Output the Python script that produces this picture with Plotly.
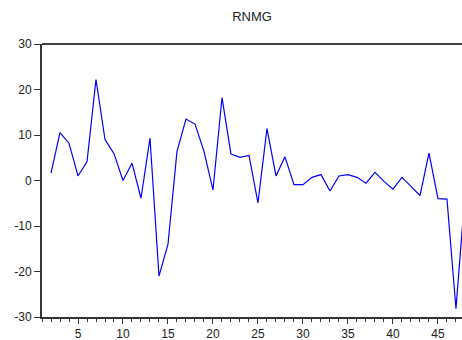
import plotly.graph_objects as go

title = "RNMG"
periods = list(range(2, 49))
rnmg = [1.6, 10.5, 8.2, 1.0, 4.1, 22.2, 9.0, 5.9, 0.0, 3.8,
        -3.9, 9.3, -21.0, -14.0, 6.4, 13.5, 12.4, 6.4, -2.1, 18.2,
        5.8, 5.1, 5.5, -4.9, 11.4, 1.0, 5.2, -0.9, -0.9, 0.7,
        1.3, -2.3, 1.0, 1.3, 0.7, -0.6, 1.8, -0.2, -1.9, 0.7,
        -1.3, -3.3, 6.0, -4.0, -4.1, -28.2, -3.0]
y_ticks = [-30, -20, -10, 0, 10, 20, 30]
y_tick_labels = ["-30", "-20", "-10", "0", "10", "20", "30"]

fig = go.Figure()
fig.add_trace(go.Scatter(x=periods, y=rnmg, mode="lines",
                         line=dict(color="#0000FF", width=1.2),
                         showlegend=False, hoverinfo="skip"))

fig.update_layout(
    width=462, height=340,
    margin=dict(l=42, r=0, t=44, b=23),
    paper_bgcolor="white", plot_bgcolor="white",
    title=dict(text=title, x=0.5, xref="paper", xanchor="center",
               y=1 - 16 / 340, yanchor="middle",
               font=dict(family="Liberation Sans, Arial", size=13, color="#222")),
    font=dict(family="Liberation Sans, Arial", size=12, color="#222"),
    xaxis=dict(range=[1, 47.67], tick0=0, dtick=5, ticks="outside", ticklen=5,
               tickwidth=1, tickcolor="#333", showgrid=False, zeroline=False,
               showline=True, linecolor="#333", linewidth=2,
               minor=dict(dtick=1, ticks="outside", ticklen=3, tickcolor="#333", showgrid=False),
               tickfont=dict(size=12, color="#222")),
    yaxis=dict(range=[-30, 30], tickvals=y_ticks, ticktext=y_tick_labels,
               ticks="outside", ticklen=6,
               tickwidth=1, tickcolor="#333", showgrid=False, zeroline=False,
               showline=True, linecolor="#333", linewidth=2,
               tickfont=dict(size=12, color="#222")),
    shapes=[dict(type="line", xref="paper", yref="paper", x0=0, x1=1, y0=1, y1=1,
                 line=dict(color="black", width=1.5))],
)

fig.write_html("out.html")
